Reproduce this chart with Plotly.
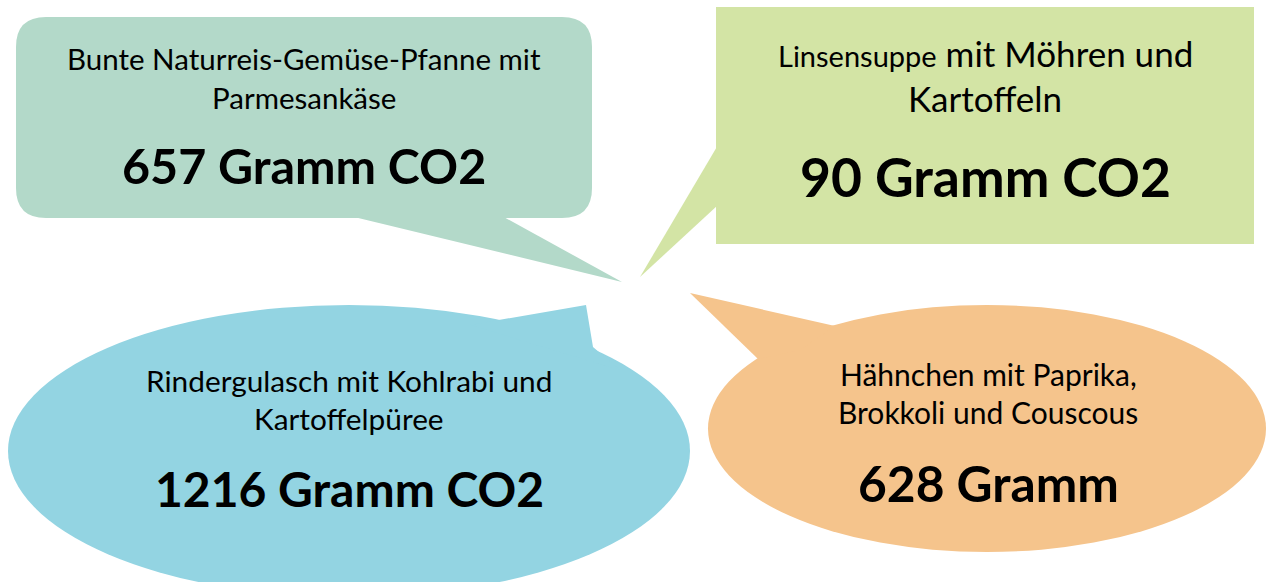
import plotly.graph_objects as go

# ---- data ----
meal_line1 = ["Bunte Naturreis-Gemüse-Pfanne mit",
              "<span style='font-size:29px'>Linsensuppe</span> mit Möhren und",
              "Rindergulasch mit Kohlrabi und",
              "Hähnchen mit Paprika,"]
meal_line2 = ["Parmesankäse", "Kartoffeln", "Kartoffelpüree", "Brokkoli und Couscous"]
co2_grams = [657, 90, 1216, 628]
units = ["Gramm CO2", "Gramm CO2", "Gramm CO2", "Gramm"]

# ---- layout / styles ----
colors = ["#b3d9c9", "#d3e4a5", "#93d4e2", "#f5c48c"]
W, H = 1266, 582
FONT = "Lato, Open Sans, sans-serif"

fig = go.Figure()
shapes = []

def rrect(x0, y0, x1, y1, r):
    return (f"M{x0+r},{y0} L{x1-r},{y0} Q{x1},{y0} {x1},{y0+r} "
            f"L{x1},{y1-r} Q{x1},{y1} {x1-r},{y1} L{x0+r},{y1} "
            f"Q{x0},{y1} {x0},{y1-r} L{x0},{y0+r} Q{x0},{y0} {x0+r},{y0} Z")

def poly(pts):
    return "M" + " L".join(f"{x},{y}" for x, y in pts) + " Z"

# green rounded box + tail
shapes.append(dict(type="path", path=rrect(16, 17, 592, 218, 30),
                   fillcolor=colors[0], line=dict(width=0), layer="below"))
shapes.append(dict(type="path", path=poly([(350, 216), (502, 216), (622, 282)]),
                   fillcolor=colors[0], line=dict(width=0), layer="below"))
# light green box + tail
shapes.append(dict(type="path", path=poly([(716, 7), (1254, 7), (1254, 244), (716, 244)]),
                   fillcolor=colors[1], line=dict(width=0), layer="below"))
shapes.append(dict(type="path", path=poly([(718, 145), (718, 205), (640, 277)]),
                   fillcolor=colors[1], line=dict(width=0), layer="below"))
# blue ellipse + tail
shapes.append(dict(type="circle", x0=8, x1=690, y0=305, y1=597,
                   fillcolor=colors[2], line=dict(width=0), layer="below"))
shapes.append(dict(type="path", path=poly([(470, 325), (586, 305), (593, 347), (620, 370)]),
                   fillcolor=colors[2], line=dict(width=0), layer="below"))
# orange ellipse + tail
shapes.append(dict(type="circle", x0=708, x1=1266, y0=305, y1=552,
                   fillcolor=colors[3], line=dict(width=0), layer="below"))
shapes.append(dict(type="path", path=poly([(835, 326), (690, 293), (758, 359), (800, 350)]),
                   fillcolor=colors[3], line=dict(width=0), layer="below"))

fig.add_trace(go.Scatter(x=[0, W], y=[0, H], mode="markers",
                         marker=dict(opacity=0), hoverinfo="skip", showlegend=False))

centers_x = [304, 985, 349, 988]
line1_y = [58, 53, 380, 374]
line2_y = [97, 98, 418, 412]
big_y = [165, 176, 488, 483]
small_sizes = [29.5, 35, 29.8, 30]
big_sizes = [48.4, 53.4, 48, 49.7]

ann = []
for i in range(4):
    ann.append(dict(x=centers_x[i], y=line1_y[i], text=meal_line1[i], showarrow=False,
                    font=dict(family=FONT, size=small_sizes[i], color="#000"),
                    xanchor="center", yanchor="middle"))
    ann.append(dict(x=centers_x[i], y=line2_y[i], text=meal_line2[i], showarrow=False,
                    font=dict(family=FONT, size=small_sizes[i], color="#000"),
                    xanchor="center", yanchor="middle"))
    ann.append(dict(x=centers_x[i], y=big_y[i], text=f"<b>{co2_grams[i]} {units[i]}</b>",
                    showarrow=False,
                    font=dict(family=FONT, size=big_sizes[i], color="#000"),
                    xanchor="center", yanchor="middle"))

fig.update_layout(
    width=W, height=H, margin=dict(l=0, r=0, t=0, b=0),
    paper_bgcolor="white", plot_bgcolor="white",
    xaxis=dict(range=[0, W], visible=False, fixedrange=True),
    yaxis=dict(range=[H, 0], visible=False, fixedrange=True),
    shapes=shapes, annotations=ann,
)
fig.write_html("out.html", config={"displayModeBar": False},
               post_script="document.body.style.margin='0';document.body.style.overflow='hidden';")
